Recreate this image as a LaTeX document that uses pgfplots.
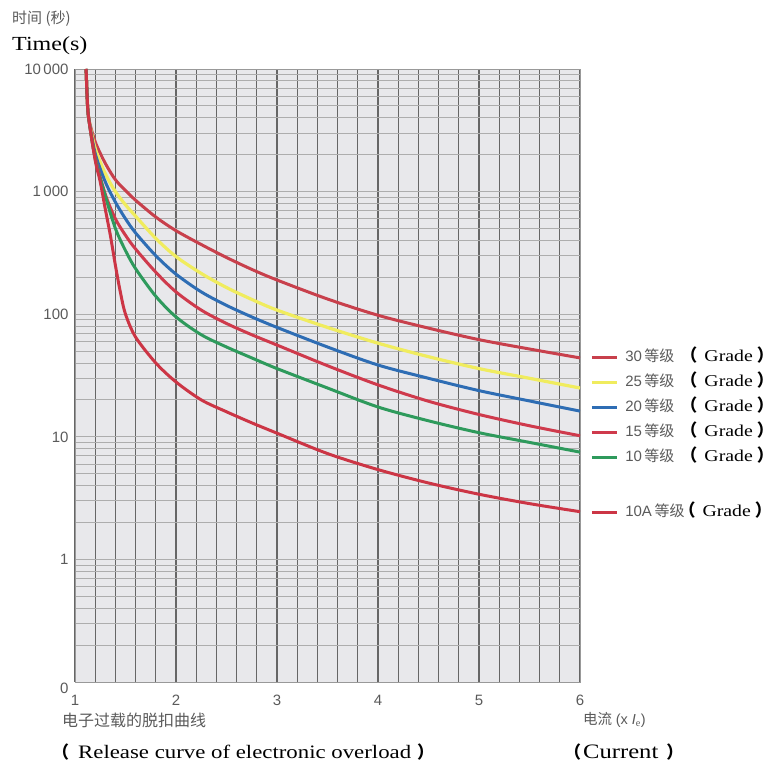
\documentclass[border=0pt]{standalone}
\usepackage{fontspec}
\setmainfont{Liberation Serif}
\setsansfont{Liberation Sans}
\newfontfamily\cjk{Noto Sans CJK SC}
\newfontfamily\latin[FakeStretch=1.2]{Liberation Serif}
\usepackage{pgfplots}
\pgfplotsset{compat=1.18}
\definecolor{txtgray}{HTML}{5A5A5A}
\definecolor{cthirty}{HTML}{C8404C}
\definecolor{cyellow}{HTML}{F0EC5E}
\definecolor{cblue}{HTML}{2E6DB4}
\definecolor{cfifteen}{HTML}{CF3A4C}
\definecolor{cgreen}{HTML}{2E9A5C}
\definecolor{cten}{HTML}{CC3545}
\definecolor{bggray}{HTML}{E8E8EB}
\newcommand{\lp}{{\cjk\bfseries\fontsize{17bp}{18bp}\selectfont （}}
\newcommand{\rp}{{\cjk\bfseries\fontsize{17bp}{18bp}\selectfont ）}}
\newcommand{\gradelbl}[2][6bp]{{\sffamily\color{txtgray}#2\,}{\cjk\color{txtgray}等级}\hspace{#1}\lp\hspace{7bp}{\latin\fontsize{16.5bp}{18bp}\selectfont Grade}\hspace{4bp}\rp}
\begin{document}
\begin{tikzpicture}[x=1bp,y=1bp]
\path[use as bounding box] (0,0) rectangle (781,764);
\begin{axis}[
  at={(75bp,82bp)}, anchor=south west,
  scale only axis, width=505bp, height=613bp,
  ymode=log, xmin=1, xmax=6, ymin=0.1, ymax=10000,
  xtick={1,2,3,4,5,6},
  xticklabels={\textsf{1},\textsf{2},\textsf{3},\textsf{4},\textsf{5},\textsf{6}},
  ytick={0.1,1,10,100,1000,10000},
  yticklabels={\raisebox{-6bp}[0pt][0pt]{\textsf{0}},\textsf{1},\textsf{10},\textsf{100},\textsf{1\hspace{2.5bp}000},\textsf{10\hspace{2.5bp}000}},
  minor x tick num=4,
  xmajorgrids, xminorgrids, ymajorgrids, yminorgrids,
  major x grid style={draw=black!60, line width=1.2bp},
  minor x grid style={draw=black!60, line width=1.2bp},
  major y grid style={draw=black!32, line width=0.9bp},
  minor y grid style={draw=black!32, line width=0.9bp},
  major tick length=0pt, minor tick length=0pt,
  axis line style={draw=black!40, line width=0.8bp},
  axis background/.style={fill=bggray},
  ticklabel style={font=\fontsize{15bp}{17bp}\selectfont, text=txtgray},
  yticklabel style={xshift=-3bp, text height=10.7bp, text depth=0bp},
  xticklabel style={yshift=-10bp},
  legend style={at={(1.02,0.5435)}, anchor=north west, draw=none, fill=none,
    inner sep=0pt, row sep=9bp,
    nodes={text height=12bp, text depth=4bp, inner sep=0pt, anchor=west},
    font=\fontsize{15bp}{17bp}\selectfont},
  legend cell align=left,
  legend image code/.code={\draw[#1, line width=3bp] (0bp,0bp) -- (25bp,0bp);},
  /tikz/every odd column/.append style={column sep=7bp},
]
\addplot[cthirty, line width=3bp, smooth, tension=0.5] coordinates {
(1.11,10000)(1.12,6000)(1.135,4000)(1.2,2550)(1.3,1700)(1.4,1250)(1.5,1020)(1.6,850)(1.8,620)(2.0,480)(2.25,370)(2.5,290)(2.75,232)(3.0,190)(3.5,133)(4.0,98)(4.5,77)(5.0,62)(5.5,52)(6.0,44)};
\addlegendentry{\gradelbl{30}}
\addplot[cyellow, line width=3.2bp, smooth, tension=0.5] coordinates {
(1.11,10000)(1.12,6000)(1.135,4000)(1.2,2250)(1.3,1400)(1.4,1000)(1.5,780)(1.6,630)(1.8,415)(2.0,295)(2.25,215)(2.5,165)(2.75,132)(3.0,108)(3.5,78)(4.0,58)(4.5,45)(5.0,36)(5.5,30)(6.0,25)};
\addlegendentry{\gradelbl{25}}
\addplot[cblue, line width=3bp, smooth, tension=0.5] coordinates {
(1.11,10000)(1.12,6000)(1.135,4000)(1.2,2050)(1.3,1200)(1.4,820)(1.5,600)(1.6,460)(1.8,300)(2.0,212)(2.25,152)(2.5,118)(2.75,95)(3.0,78)(3.5,54)(4.0,38.5)(4.5,30)(5.0,23.8)(5.5,19.6)(6.0,16.2)};
\addlegendentry{\gradelbl{20}}
\addplot[cfifteen, line width=3bp, smooth, tension=0.5] coordinates {
(1.11,10000)(1.12,6000)(1.135,4000)(1.2,1900)(1.3,950)(1.4,600)(1.5,440)(1.6,340)(1.8,220)(2.0,152)(2.25,108)(2.5,84)(2.75,68)(3.0,56)(3.5,38)(4.0,26.5)(4.5,19.5)(5.0,15.2)(5.5,12.3)(6.0,10.2)};
\addlegendentry{\gradelbl{15}}
\addplot[cgreen, line width=3bp, smooth, tension=0.5] coordinates {
(1.11,10000)(1.12,6000)(1.135,4000)(1.2,1850)(1.3,920)(1.4,500)(1.5,330)(1.6,235)(1.8,140)(2.0,95)(2.25,68)(2.5,54)(2.75,44)(3.0,36)(3.5,25)(4.0,17.5)(4.5,13.5)(5.0,10.8)(5.5,9)(6.0,7.5)};
\addlegendentry{\gradelbl{10}}
\addlegendimage{empty legend}
\addlegendentry[text depth=9bp]{}
\addplot[cten, line width=3bp, smooth, tension=0.5] coordinates {
(1.11,10000)(1.12,6000)(1.135,4000)(1.2,1800)(1.25,1200)(1.3,720)(1.35,440)(1.4,250)(1.45,150)(1.5,100)(1.6,65)(1.8,40)(2.0,28)(2.25,20)(2.5,16)(2.75,13)(3.0,10.7)(3.5,7.3)(4.0,5.4)(4.5,4.2)(5.0,3.4)(5.5,2.85)(6.0,2.45)};
\addlegendentry{\gradelbl[-6bp]{10A}}
\end{axis}
\node[anchor=west, inner sep=0pt, text=txtgray, font=\cjk\fontsize{15bp}{17bp}\selectfont] at (12,745) {时间 (秒)};
\node[anchor=west, inner sep=0pt, font=\latin\fontsize{20bp}{22bp}\selectfont] at (12,718) {Time(s)};
\node[anchor=west, inner sep=0pt, text=txtgray, font=\cjk\fontsize{16bp}{18bp}\selectfont] at (62,44) {电子过载的脱扣曲线};
\node[anchor=west, inner sep=0pt] at (52,12) {\lp\hspace{9bp}{\latin\fontsize{19bp}{20bp}\selectfont Release curve of electronic overload}\hspace{6bp}\rp};
\node[anchor=west, inner sep=0pt, text=txtgray, font=\fontsize{14.5bp}{16bp}\selectfont] at (583,44) {{\cjk 电流} \textsf{(x \textit{I}$_{\mathrm{e}}$)}};
\node[anchor=west, inner sep=0pt] at (564,12) {\lp\hspace{2bp}{\latin\fontsize{20.5bp}{22bp}\selectfont Current}\hspace{8bp}\rp};
\end{tikzpicture}
\end{document}
